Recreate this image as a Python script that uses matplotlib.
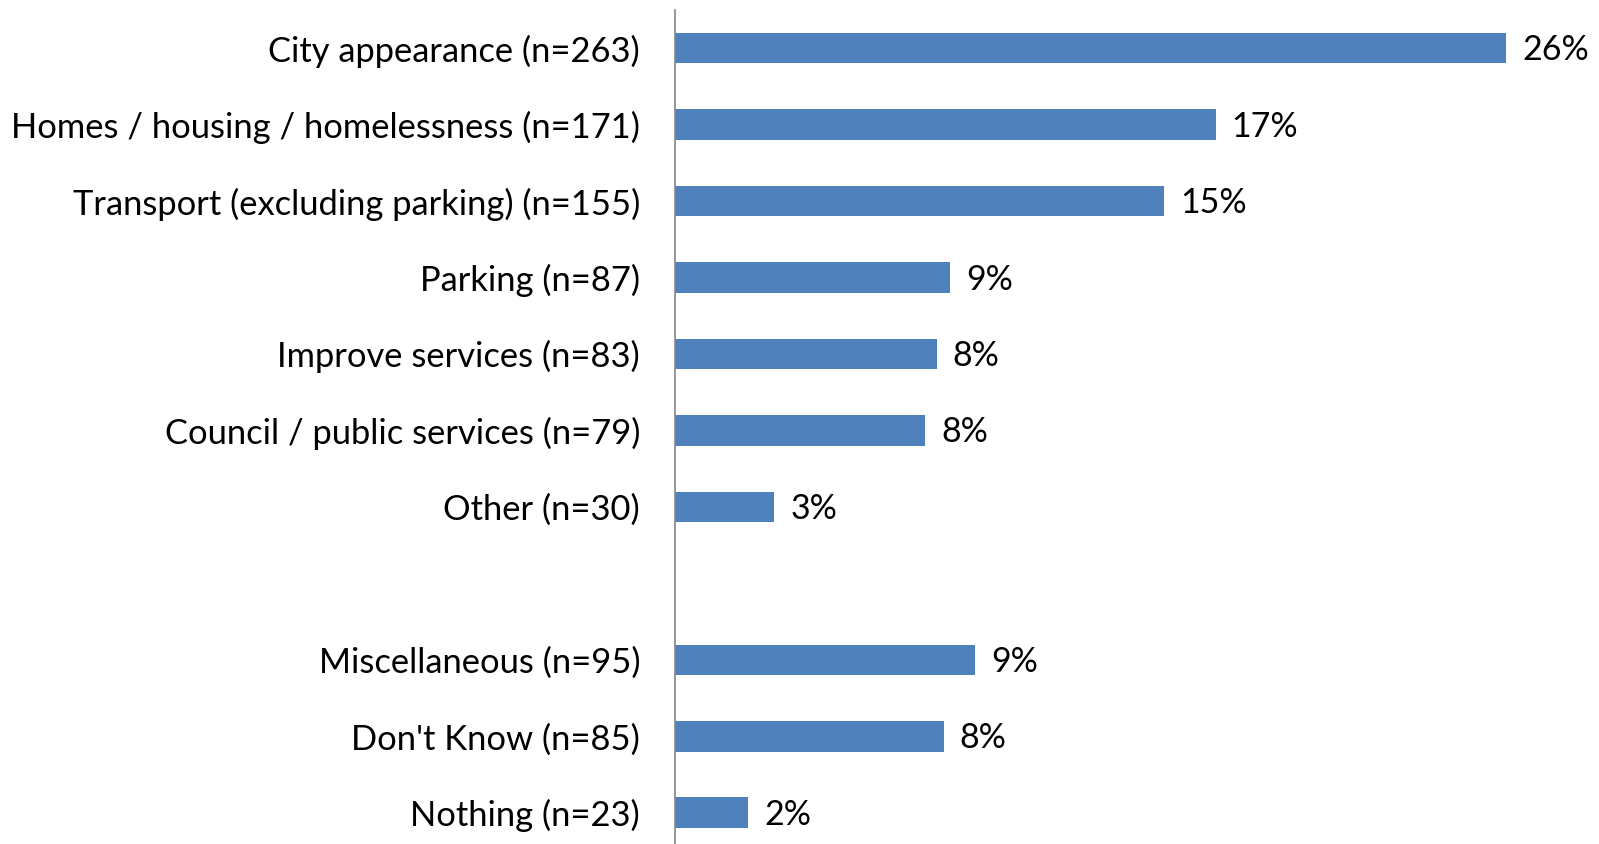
import numpy as np
import matplotlib.pyplot as plt

# categories top to bottom, "" marks the empty slot between the two groups
labels = ["City appearance (n=263)", "Homes / housing / homelessness (n=171)",
          "Transport (excluding parking) (n=155)", "Parking (n=87)",
          "Improve services (n=83)", "Council / public services (n=79)",
          "Other (n=30)", "",
          "Miscellaneous (n=95)", "Don't Know (n=85)", "Nothing (n=23)"]
values = [25.9, 16.85, 15.25, 8.57, 8.16, 7.81, 3.1, None, 9.36, 8.38, 2.29]
value_labels = ["26%", "17%", "15%", "9%", "8%", "8%", "3%", "", "9%", "8%", "2%"]

plt.rcParams['font.family'] = ['Lato', 'DejaVu Sans']

fig = plt.figure(figsize=(15.99, 8.44), dpi=100)
ax = fig.add_axes([0.422, -0.0083, 0.578, 0.9967])

y = np.arange(len(labels))
for i, v in enumerate(values):
    if v is None:
        continue
    ax.barh(y[i], v, height=0.4, color="#4F81BD")
    ax.annotate(value_labels[i], (v, y[i]), xytext=(11.5, -1.5),
                textcoords="offset points", va="center", ha="left",
                fontsize=24.5, color="black")

ax.set_yticks(y)
ax.set_yticklabels(labels, fontsize=24.8)
ax.tick_params(axis="y", length=0, pad=25)
ax.set_ylim(len(labels) - 0.5, -0.5)
ax.set_xlim(0, 28.8)
ax.set_xticks([])

for s in ["top", "right", "bottom"]:
    ax.spines[s].set_visible(False)
ax.spines["left"].set_color("#868686")
ax.spines["left"].set_linewidth(1.2)

fig.savefig("out.png", dpi=100)
